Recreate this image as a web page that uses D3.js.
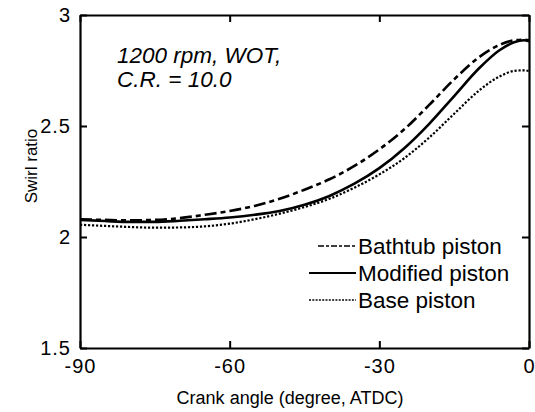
<!DOCTYPE html>
<html>
<head>
<meta charset="utf-8">
<script src="https://cdn.jsdelivr.net/npm/d3@7"></script>
<style>
  body { margin: 0; background: #fff; }
  svg { font-family: "Liberation Sans", Arial, sans-serif; }
</style>
</head>
<body>
<svg id="chart"></svg>
<script>
// crank angle values (degree, ATDC)
var angles = [-90, -85, -80, -75, -70, -65, -60, -55, -50, -45, -40, -35, -30, -25, -20, -15, -10, -6, -3, -1, 0];

// swirl ratio for each piston
var bathtub  = [2.080, 2.077, 2.075, 2.077, 2.085, 2.100, 2.117, 2.140, 2.172, 2.213, 2.260, 2.320, 2.395, 2.485, 2.595, 2.710, 2.810, 2.864, 2.886, 2.889, 2.886];
var modified = [2.077, 2.072, 2.068, 2.068, 2.073, 2.080, 2.088, 2.100, 2.117, 2.145, 2.185, 2.240, 2.310, 2.400, 2.510, 2.635, 2.760, 2.840, 2.877, 2.886, 2.882];
var base     = [2.055, 2.050, 2.045, 2.042, 2.043, 2.048, 2.060, 2.080, 2.105, 2.135, 2.172, 2.222, 2.282, 2.355, 2.448, 2.555, 2.660, 2.722, 2.748, 2.751, 2.747];

var seriesNames = ["Bathtub piston", "Modified piston", "Base piston"];
var xTicks = [-90, -60, -30, 0];
var yTicks = [1.5, 2, 2.5, 3];

var margin = {top: 15, right: 6, bottom: 64, left: 80};
var width = 535 - margin.left - margin.right;
var height = 412 - margin.top - margin.bottom;

var svg = d3.select("#chart")
  .attr("width", 535)
  .attr("height", 412)
  .append("g")
  .attr("transform", "translate(" + margin.left + "," + margin.top + ")");

var xScale = d3.scaleLinear().domain([-90, 0]).range([0, width]);
var yScale = d3.scaleLinear().domain([1.5, 3]).range([height, 0]);

// 軸 (ticks inward, mirrored on all sides)
svg.append("g")
  .attr("transform", "translate(0," + height + ")")
  .call(d3.axisBottom(xScale).tickValues(xTicks).tickSizeInner(-7).tickSizeOuter(0).tickPadding(11).tickFormat(function(d){ return String(d); }))
  .call(function(g) {
    g.selectAll("text").attr("font-size", 20).attr("letter-spacing", 1).attr("fill", "#000");
  });

svg.append("g")
  .call(d3.axisLeft(yScale).tickValues(yTicks).tickSizeInner(-7).tickSizeOuter(0).tickPadding(9).tickFormat(function(d){ return String(d); }))
  .call(function(g) {
    g.selectAll("text").attr("font-size", 20).attr("letter-spacing", 1).attr("fill", "#000");
  });

svg.append("g")
  .call(d3.axisTop(xScale).tickValues(xTicks).tickSizeInner(-7).tickSizeOuter(0).tickFormat(""));

svg.append("g")
  .attr("transform", "translate(" + width + ",0)")
  .call(d3.axisRight(yScale).tickValues(yTicks).tickSizeInner(-7).tickSizeOuter(0).tickFormat(""));

svg.selectAll(".domain").attr("stroke", "#000").attr("stroke-width", 2.2);
svg.selectAll(".tick line").attr("stroke", "#000").attr("stroke-width", 2);

// axis titles
svg.append("text")
  .attr("x", 210)
  .attr("y", height + 56)
  .attr("text-anchor", "middle")
  .attr("font-size", 18)
  .text("Crank angle (degree, ATDC)");

svg.append("text")
  .attr("transform", "translate(-43,151) rotate(-90)")
  .attr("text-anchor", "middle")
  .attr("font-size", 17)
  .text("Swirl ratio");

// annotation
svg.append("text")
  .attr("x", 37).attr("y", 48)
  .attr("font-size", 22.5).attr("font-style", "italic")
  .text("1200 rpm, WOT,");
svg.append("text")
  .attr("x", 37).attr("y", 72)
  .attr("font-size", 22.5).attr("font-style", "italic")
  .text("C.R. = 10.0");

// lines
var styles = [
  {data: bathtub,  dash: "12,4,5,4", w: 2.6},
  {data: modified, dash: null,       w: 2.6},
  {data: base,     dash: "2.2,1.8",  w: 2.2}
];

var line = d3.line()
  .x(function(d) { return xScale(d[0]); })
  .y(function(d) { return yScale(d[1]); })
  .curve(d3.curveMonotoneX);

styles.forEach(function(s) {
  var pts = angles.map(function(a, i) { return [a, s.data[i]]; });
  svg.append("path")
    .datum(pts)
    .attr("fill", "none")
    .attr("stroke", "#000")
    .attr("stroke-width", s.w)
    .attr("stroke-dasharray", s.dash)
    .attr("d", line);
});

// legend
var legend = svg.append("g").attr("transform", "translate(228,231)");
seriesNames.forEach(function(name, i) {
  legend.append("line")
    .attr("x1", i === 0 ? 10 : 1).attr("x2", 48)
    .attr("y1", i * 27).attr("y2", i * 27)
    .attr("stroke", "#000")
    .attr("stroke-width", i === 1 ? 2.2 : 1.6)
    .attr("stroke-dasharray", i === 0 ? "6,2,3,2" : (i === 2 ? "2,1.3" : null));
  legend.append("text")
    .attr("x", 50).attr("y", i * 27 + 8)
    .attr("font-size", 22.5)
    .text(name);
});
</script>
</body>
</html>
